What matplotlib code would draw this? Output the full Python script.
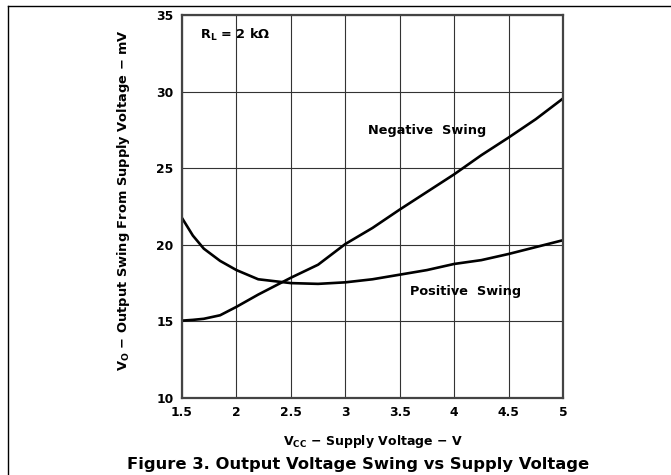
"""
Output voltage swing vs supply voltage (Figure 3), redrawn with matplotlib.
"""

import matplotlib
matplotlib.use("Agg")
import matplotlib.pyplot as plt
from matplotlib.lines import Line2D

plt.rcParams["font.family"] = ["DejaVu Sans"]
plt.rcParams["font.weight"] = "bold"
plt.rcParams["mathtext.fontset"] = "custom"
plt.rcParams["mathtext.rm"] = "DejaVu Sans:bold"
plt.rcParams["mathtext.it"] = "DejaVu Sans:bold"
plt.rcParams["mathtext.default"] = "rm"

# --- data ---
vcc = [1.5, 1.6, 1.7, 1.85, 2.0, 2.2, 2.5, 2.75, 3.0, 3.25, 3.5, 3.75,
       4.0, 4.25, 4.5, 4.75, 5.0]
negative_swing = [15.05, 15.1, 15.17, 15.4, 15.95, 16.75, 17.85, 18.7, 20.05,
                  21.1, 22.3, 23.45, 24.6, 25.85, 27.0, 28.2, 29.55]
positive_swing = [21.75, 20.6, 19.75, 18.95, 18.35, 17.75, 17.5, 17.45, 17.55,
                  17.75, 18.05, 18.35, 18.75, 19.0, 19.4, 19.85, 20.3]

x_ticks = [1.5, 2, 2.5, 3, 3.5, 4, 4.5, 5]
x_tick_labels = ["1.5", "2", "2.5", "3", "3.5", "4", "4.5", "5"]
y_ticks = [10, 15, 20, 25, 30, 35]


def main():
    fig = plt.figure(figsize=(6.71, 4.75), dpi=100)
    ax = fig.add_axes([182 / 671, 77 / 475, 381 / 671, 383 / 475])

    ax.plot(vcc, negative_swing, color="black", lw=1.9, solid_capstyle="butt")
    ax.plot(vcc, positive_swing, color="black", lw=1.9, solid_capstyle="butt")

    ax.set_xlim(1.5, 5)
    ax.set_ylim(10, 35)
    ax.set_xticks(x_ticks)
    ax.set_xticklabels(x_tick_labels)
    ax.set_yticks(y_ticks)
    ax.grid(True, color="#333333", lw=0.8)
    ax.tick_params(length=0, labelsize=8.9, pad=6)
    ax.tick_params(axis="x", pad=5.5)
    for spine in ax.spines.values():
        spine.set_color("#444444")
        spine.set_linewidth(1.6)

    ax.text(1.665, 33.7, "R$_L$ = 2 k\u03a9", fontsize=9.3, va="center",
            ha="left")
    ax.text(3.21, 27.43, "Negative  Swing", fontsize=9.3, va="center",
            ha="left")
    ax.text(3.59, 16.98, "Positive  Swing", fontsize=9.3, va="center",
            ha="left")

    fig.text(372.5 / 671, 1 - 441 / 475,
             "V$_{CC}$ \u2212 Supply Voltage \u2212 V",
             fontsize=9.0, ha="center", va="center")
    fig.text(124 / 671, 1 - 200 / 475,
             "V$_O$ \u2212 Output Swing From Supply Voltage \u2212 mV",
             fontsize=9.4, ha="center", va="center", rotation=90)
    fig.text(358 / 671, 1 - 464 / 475,
             "Figure 3. Output Voltage Swing vs Supply Voltage",
             fontsize=11.8, ha="center", va="center")

    # page frame lines
    fig.add_artist(Line2D([8 / 671, 1], [469 / 475, 469 / 475],
                          transform=fig.transFigure, color="black", lw=1))
    fig.add_artist(Line2D([8 / 671, 8 / 671], [0, 469 / 475],
                          transform=fig.transFigure, color="black", lw=1))

    fig.savefig("out.png", dpi=100)


if __name__ == "__main__":
    main()
